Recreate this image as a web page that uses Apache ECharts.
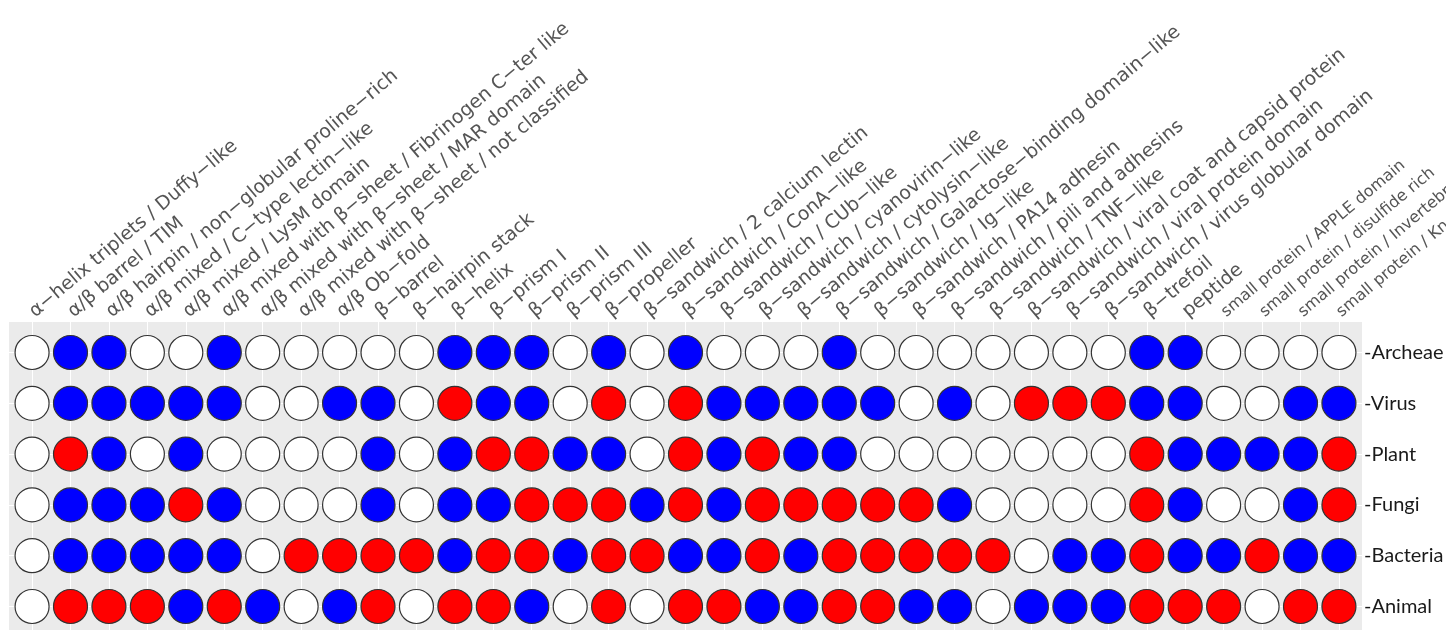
<!DOCTYPE html>
<html>
<head>
<meta charset="utf-8">
<script src="https://cdn.jsdelivr.net/npm/echarts@6/dist/echarts.min.js"></script>
<style>
  html, body { margin: 0; padding: 0; background: #fff; }
  #chart { width: 1446px; height: 630px; }
</style>
</head>
<body>
<div id="chart"></div>
<script>
// fold classes along the top
const structures = [
  'α−helix triplets / Duffy−like',
  'α/β barrel / TIM',
  'α/β hairpin / non−globular proline−rich',
  'α/β mixed / C−type lectin−like',
  'α/β mixed / LysM domain',
  'α/β mixed with β−sheet / Fibrinogen C−ter like',
  'α/β mixed with β−sheet / MAR domain',
  'α/β mixed with β−sheet / not classified',
  'α/β Ob−fold',
  'β−barrel',
  'β−hairpin stack',
  'β−helix',
  'β−prism I',
  'β−prism II',
  'β−prism III',
  'β−propeller',
  'β−sandwich / 2 calcium lectin',
  'β−sandwich / ConA−like',
  'β−sandwich / CUb−like',
  'β−sandwich / cyanovirin−like',
  'β−sandwich / cytolysin−like',
  'β−sandwich / Galactose−binding domain−like',
  'β−sandwich / Ig−like',
  'β−sandwich / PA14 adhesin',
  'β−sandwich / pili and adhesins',
  'β−sandwich / TNF−like',
  'β−sandwich / viral coat and capsid protein',
  'β−sandwich / viral protein domain',
  'β−sandwich / virus globular domain',
  'β−trefoil',
  'peptide',
  'small protein / APPLE domain',
  'small protein / disulfide rich',
  'small protein / Invertebrate defensin',
  'small protein / Knottin'
]

const organisms = ['Archeae', 'Virus', 'Plant', 'Fungi', 'Bacteria', 'Animal']

// 0 = absent (white), 1 = blue, 2 = red
const archeae  = [0,1,1,0,0,1,0,0,0,0,0,1,1,1,0,1,0,1,0,0,0,1,0,0,0,0,0,0,0,1,1,0,0,0,0]
const virus    = [0,1,1,1,1,1,0,0,1,1,0,2,1,1,0,2,0,2,1,1,1,1,1,0,1,0,2,2,2,1,1,0,0,1,1]
const plant    = [0,2,1,0,1,0,0,0,0,1,0,1,2,2,1,1,0,2,1,2,1,1,0,0,0,0,0,0,0,2,1,1,1,1,2]
const fungi    = [0,1,1,1,2,1,0,0,0,1,0,1,1,2,2,2,1,2,1,2,2,2,2,2,1,0,0,0,0,2,1,0,0,1,2]
const bacteria = [0,1,1,1,1,1,0,2,2,2,2,1,2,2,1,2,2,1,1,2,1,2,2,2,2,2,0,1,1,2,1,1,2,1,1]
const animal   = [0,2,2,2,1,2,1,0,1,2,0,2,2,1,0,2,0,2,2,1,1,2,2,1,1,0,1,1,1,2,2,2,0,2,2]

const rows = [archeae, virus, plant, fungi, bacteria, animal]
const fillColors = ['#ffffff', '#0000ff', '#ff0000']

const points = []
rows.forEach((row, r) => {
  row.forEach((code, c) => {
    points.push([c, r, code])
  })
})

const xTicks = structures.map((s, i) => i)
const yTicks = organisms.map((s, i) => i)

const chart = echarts.init(document.getElementById('chart'))
chart.setOption({
  animation: false,
  grid: {
    left: 9,
    right: 84,
    top: 322,
    bottom: -7,
    show: true,
    backgroundColor: '#ebebeb',
    borderWidth: 0,
    outerBoundsMode: 'none'
  },
  xAxis: {
    type: 'value',
    position: 'top',
    min: -0.6,
    max: 34.6,
    axisLine: { show: false },
    axisTick: {
      show: true,
      length: 4,
      customValues: xTicks,
      lineStyle: { color: '#333' }
    },
    axisLabel: {
      customValues: xTicks,
      rotate: 40,
      margin: 8,
      color: '#555',
      fontFamily: 'DejaVu Sans',
      fontSize: 19,
      formatter: v => {
        const s = structures[Math.round(v)]
        return s.indexOf('small protein') === 0 ? '{s|' + s + '}' : s
      },
      rich: {
        s: { fontSize: 16, fontFamily: 'DejaVu Sans', color: '#555' }
      }
    },
    splitLine: { show: true, lineStyle: { color: '#ffffff', width: 1 } }
  },
  yAxis: {
    type: 'value',
    position: 'right',
    inverse: true,
    min: -0.6,
    max: 5.6,
    axisLine: { show: false },
    axisTick: { show: false, customValues: yTicks },
    axisLabel: {
      customValues: yTicks,
      margin: 2,
      color: '#1a1a1a',
      fontFamily: 'Lato',
      fontSize: 20,
      formatter: v => '-' + organisms[Math.round(v)]
    },
    splitLine: { show: true, lineStyle: { color: '#ffffff', width: 1 } }
  },
  series: [{
    type: 'scatter',
    data: points,
    symbol: 'circle',
    symbolSize: 34,
    itemStyle: {
      color: p => fillColors[p.data[2]],
      borderColor: '#333',
      borderWidth: 1.2,
      opacity: 1
    }
  }]
})
</script>
</body>
</html>
